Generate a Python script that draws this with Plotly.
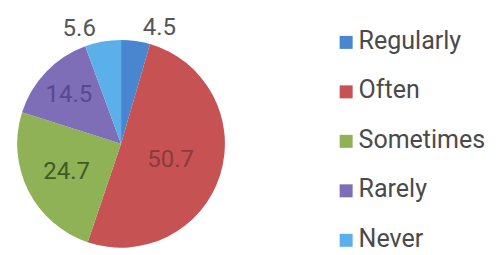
import plotly.graph_objects as go

categories = ["Regularly", "Often", "Sometimes", "Rarely", "Never"]
values = [4.5, 50.7, 24.7, 14.5, 5.6]
colors = ["#4a85d0", "#c65254", "#90b257", "#7e6eb8", "#5cb0ea"]
text_colors = ["#555555", "#8c3a3c", "#3f5c25", "#56498f", "#555555"]
text_pos = ["outside", "inside", "inside", "inside", "outside"]

# page body has an 8px margin; the figure fills the rest of the window
OFF = 8
W, H = 503 - OFF, 255 - OFF


def fx(px):
    return (px - OFF) / W


def fy(py):
    return 1 - (py - OFF) / H


fig = go.Figure()
fig.add_trace(go.Pie(
    labels=categories, values=values, sort=False, direction="clockwise", rotation=0,
    marker=dict(colors=colors, line=dict(width=0)),
    texttemplate="%{value}", textposition=text_pos,
    textfont=dict(family="Roboto", size=24, color=text_colors),
    insidetextorientation="horizontal",
    showlegend=False, hoverinfo="label+value",
    domain=dict(x=[fx(13.5), fx(225.5)], y=[fy(247.5), fy(35.5)]),
))

# legend built as scatter traces on hidden axes
n = len(categories)
ys = list(range(n, 0, -1))
fig.add_trace(go.Scatter(
    x=[345.5] * n, y=ys, mode="markers",
    marker=dict(symbol="square", size=13, color=colors, line=dict(width=0)),
    showlegend=False, hoverinfo="skip",
))
fig.add_trace(go.Scatter(
    x=[358] * n, y=ys, mode="text", text=categories,
    textposition="middle right", textfont=dict(family="Roboto", size=25, color="#4a4a4a"),
    showlegend=False, hoverinfo="skip",
))
fig.update_layout(
    width=W, height=H, margin=dict(l=0, r=0, t=0, b=0),
    paper_bgcolor="white", plot_bgcolor="rgba(0,0,0,0)",
    xaxis=dict(domain=[0, 1], range=[OFF, 503], visible=False, fixedrange=True),
    yaxis=dict(domain=[0, 1], range=[0.703, 5.594], visible=False, fixedrange=True),
)
fig.write_html("out.html")
